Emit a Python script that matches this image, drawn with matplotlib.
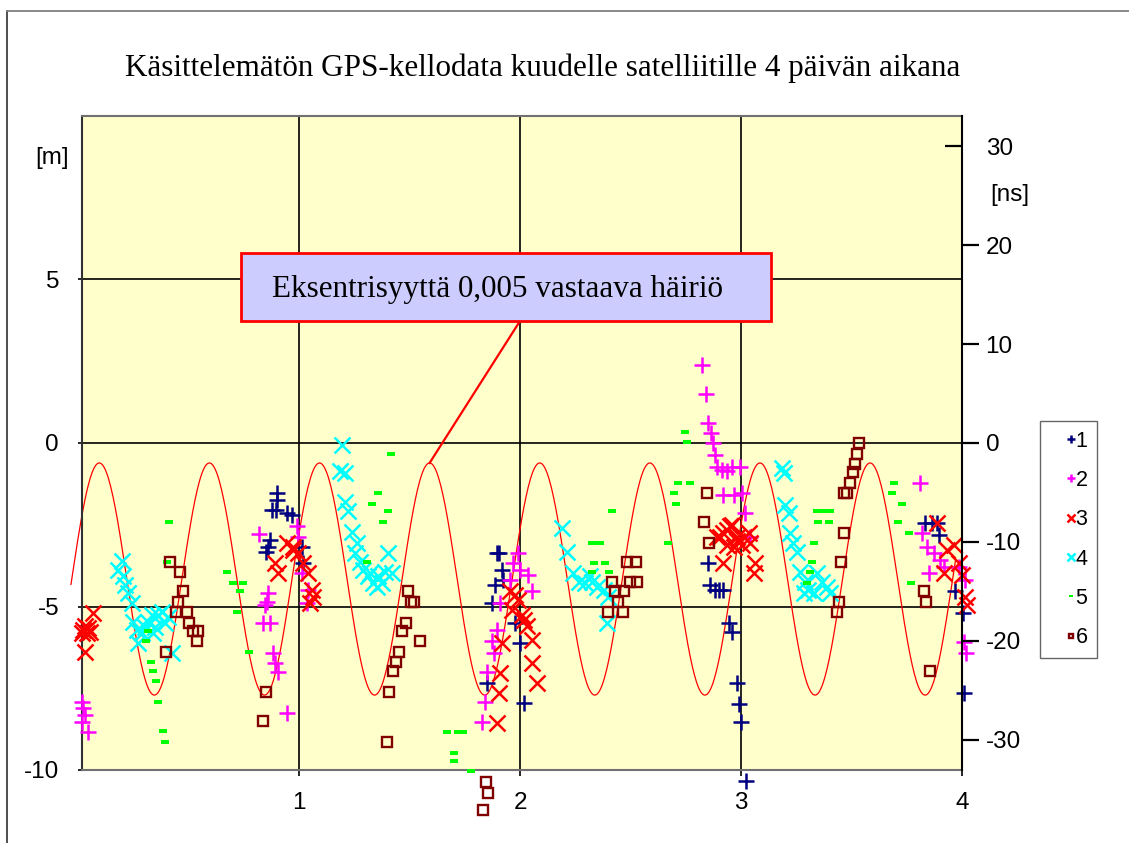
import numpy as np
import matplotlib
matplotlib.use("Agg")
import matplotlib.pyplot as plt
import matplotlib.lines as mlines
import matplotlib.patches as mpatches

# ---------------- data ----------------
TITLE = "Käsittelemätön GPS-kellodata kuudelle satelliitille 4 päivän aikana"
ANNOT = "Eksentrisyyttä 0,005 vastaava häiriö"
SERIES_LABELS = ["1", "2", "3", "4", "5", "6"]
X_TICKS = [1, 2, 3, 4]
Y_TICKS_M = [-10, -5, 0, 5]
Y_TICKS_NS = [-30, -20, -10, 0, 10, 20, 30]
M_PER_NS = 0.3025

# (day, metres)
SAT1 = [(0.900, -1.53), (0.898, -1.74), (0.895, -2.04), (0.875, -2.04), (0.943, -2.14),
        (0.867, -2.96), (0.860, -3.18), (0.849, -3.32), (0.965, -2.20), (1.011, -3.17),
        (1.018, -3.67), (1.894, -3.37), (1.886, -4.34), (1.871, -4.90), (1.849, -7.35),
        (1.906, -3.37), (1.917, -3.88), (1.977, -5.51), (2.000, -6.12), (2.015, -7.96),
        (1.924, -4.19), (2.852, -3.67), (2.860, -4.34), (2.883, -4.49), (2.898, -4.49),
        (2.920, -4.49), (2.943, -5.51), (2.958, -5.77), (2.981, -7.35), (2.989, -7.98),
        (3.000, -8.54), (3.023, -10.34), (3.834, -2.45), (3.864, -2.45), (3.887, -2.45),
        (3.894, -2.81), (3.970, -4.54), (4.005, -5.21), (4.011, -7.65)]
SAT2 = [(0.014, -7.91), (0.022, -8.11), (0.029, -8.32), (0.014, -8.52), (0.044, -8.83),
        (0.819, -2.78), (0.860, -4.59), (0.852, -4.85), (0.845, -4.95), (0.837, -5.51),
        (0.867, -5.51), (0.882, -6.43), (0.890, -6.74), (0.905, -6.99), (0.943, -8.27),
        (0.988, -2.55), (0.996, -2.86), (1.011, -3.98), (1.041, -4.49), (1.033, -4.90),
        (1.992, -3.37), (1.969, -3.67), (2.000, -3.88), (2.037, -4.03), (2.052, -4.54),
        (1.954, -4.19), (1.909, -4.90), (1.894, -5.72), (1.872, -6.07), (1.879, -6.43),
        (1.849, -6.99), (1.841, -7.91), (1.826, -8.52), (2.822, 2.40), (2.842, 1.50),
        (2.852, 0.61), (2.863, 0.31), (2.872, 0.00), (2.882, -0.36), (2.890, -0.72),
        (2.913, -0.82), (2.936, -0.87), (2.958, -0.72), (2.996, -0.72), (2.920, -1.58),
        (2.966, -1.58), (3.004, -1.53), (3.019, -2.14), (3.041, -2.86), (3.811, -1.22),
        (3.819, -2.76), (3.842, -3.17), (3.871, -3.37), (3.902, -3.57), (3.849, -3.98),
        (3.917, -3.78), (3.985, -3.78), (4.015, -4.18), (4.007, -6.10), (4.019, -6.43)]
SAT3 = [(0.022, -5.72), (0.037, -5.82), (0.052, -5.77), (0.067, -5.21), (0.029, -6.38),
        (0.014, -5.82), (0.030, -5.60), (0.045, -5.65), (0.943, -3.06), (0.973, -3.27),
        (0.890, -3.67), (0.905, -3.98), (0.973, -3.17), (0.996, -3.37), (1.018, -3.67),
        (1.041, -3.98), (1.056, -4.49), (1.064, -4.70), (1.048, -4.90), (1.954, -4.54),
        (1.977, -4.64), (1.992, -4.80), (1.962, -5.10), (2.007, -5.26), (2.015, -5.41),
        (2.030, -5.61), (2.052, -6.02), (1.917, -6.12), (2.052, -6.74), (2.075, -7.35),
        (1.909, -7.04), (1.902, -7.65), (1.894, -8.57), (2.920, -2.76), (2.951, -2.55),
        (2.981, -2.86), (2.936, -3.11), (2.966, -3.17), (3.004, -3.11), (3.034, -2.76),
        (3.057, -3.98), (2.920, -3.67), (2.905, -2.86), (2.936, -2.65), (2.958, -2.50),
        (2.981, -3.01), (3.011, -2.86), (3.041, -3.06), (3.064, -3.67), (2.890, -2.86),
        (3.887, -2.45), (3.932, -3.27), (3.962, -3.11), (3.985, -3.67), (3.917, -3.98),
        (4.000, -4.03), (4.015, -4.70), (4.022, -4.95)]
SAT4 = [(0.198, -3.62), (0.180, -3.88), (0.203, -4.08), (0.211, -4.34), (0.226, -4.59),
        (0.241, -4.90), (0.248, -5.46), (0.264, -5.72), (0.271, -6.12), (0.286, -5.82),
        (0.316, -5.46), (0.332, -5.26), (0.346, -5.62), (0.361, -5.26), (0.377, -5.16),
        (0.392, -5.51), (0.407, -5.31), (0.339, -5.82), (0.422, -6.43), (0.301, -5.62),
        (1.192, -0.05), (1.184, -0.87), (1.207, -0.92), (1.207, -1.79), (1.222, -2.09),
        (1.237, -2.71), (1.260, -3.06), (1.252, -3.37), (1.275, -3.63), (1.290, -3.88),
        (1.313, -4.08), (1.335, -4.29), (1.358, -4.08), (1.373, -4.29), (1.388, -3.93),
        (1.403, -3.37), (1.418, -3.98), (1.320, -3.98), (1.350, -4.39),
        (2.188, -2.60), (2.211, -3.32), (2.241, -3.98), (2.264, -4.24), (2.294, -4.29),
        (2.324, -4.24), (2.347, -4.39), (2.377, -4.49), (2.399, -4.70), (2.392, -5.51),
        (2.317, -4.08), (3.185, -0.77), (3.192, -0.92), (3.200, -1.89), (3.215, -2.14),
        (3.222, -2.76), (3.237, -3.06), (3.253, -3.32), (3.268, -3.93), (3.290, -4.24),
        (3.305, -4.49), (3.328, -4.59), (3.343, -3.98), (3.366, -4.24), (3.389, -4.39),
        (3.404, -4.59), (3.283, -4.59)]
SAT5 = [(0.411, -2.43), (0.402, -3.64), (0.316, -5.75), (0.306, -6.07), (0.327, -6.71),
        (0.336, -6.96), (0.350, -7.28), (0.362, -7.93), (0.381, -8.82), (0.392, -9.15),
        (0.671, -3.96), (0.698, -4.29), (0.746, -4.29), (0.731, -4.54), (0.719, -5.17),
        (0.774, -6.40), (1.414, -0.33), (1.358, -1.53), (1.328, -1.86), (1.403, -2.09),
        (1.380, -2.43), (1.308, -3.64), (1.667, -8.83), (1.720, -8.83), (1.743, -8.83),
        (1.698, -9.47), (1.701, -9.72), (1.776, -10.02), (2.324, -3.06), (2.362, -3.06),
        (2.332, -3.66), (2.385, -3.66), (2.324, -3.96), (2.404, -3.96), (2.744, 0.34),
        (2.757, 0.02), (2.714, -1.22), (2.770, -1.22), (2.694, -1.53), (2.705, -1.86),
        (2.415, -2.09), (2.671, -3.06), (3.343, -2.09), (3.373, -2.09), (3.403, -2.09),
        (3.350, -2.43), (3.396, -2.43), (3.331, -3.06), (3.320, -3.64), (3.310, -3.96),
        (3.298, -4.29), (3.693, -1.22), (3.683, -1.53), (3.728, -1.86), (3.709, -2.43),
        (3.758, -2.76), (3.769, -4.29)]
SAT6 = [(0.414, -3.64), (0.460, -3.96), (0.475, -4.54), (0.449, -4.85), (0.442, -5.17),
        (0.490, -5.17), (0.502, -5.49), (0.520, -5.75), (0.543, -5.75), (0.535, -6.05),
        (0.396, -6.38), (0.849, -7.62), (0.834, -8.49), (1.494, -4.52), (1.517, -4.85),
        (1.507, -4.85), (1.483, -5.49), (1.464, -5.75), (1.547, -6.07), (1.449, -6.38),
        (1.438, -6.71), (1.423, -6.96), (1.406, -7.61), (1.396, -9.14), (1.846, -10.36),
        (1.856, -10.69), (1.833, -11.23), (2.483, -3.64), (2.525, -3.64), (2.415, -4.26),
        (2.498, -4.26), (2.528, -4.26), (2.430, -4.52), (2.472, -4.52), (2.442, -4.85),
        (2.397, -5.16), (2.463, -5.16), (2.845, -1.53), (2.833, -2.42), (2.855, -3.06),
        (3.532, 0.00), (3.524, -0.33), (3.514, -0.64), (3.506, -0.89), (3.494, -1.21),
        (3.479, -1.53), (3.467, -1.53), (3.464, -2.76), (3.452, -3.64), (3.441, -4.85),
        (3.434, -5.17), (3.826, -4.52), (3.838, -4.87), (3.856, -6.96)]

# eccentricity disturbance model (metres)
ECC_CENTER = -4.16
ECC_AMPLITUDE = 3.55
ECC_PERIOD = 0.4985      # days
ECC_FIRST_PEAK = 0.0943  # days
ECC_RANGE = (-0.034, 3.97)

# ---------------- figure ----------------
W, H = 1129, 843
fig = plt.figure(figsize=(W / 100, H / 100), dpi=100)
SANS = "Liberation Sans"
SERIF = "Liberation Serif"

def fx(px):
    return px / W

def fy(py):
    return 1 - py / H

ax = fig.add_axes([fx(82), fy(770), fx(962) - fx(82), fy(116) - fy(770)])
ax.set_facecolor("#FFFFCC")
ax.set_xlim(0.016, 4.0)
ax.set_ylim(-10, 10)
ax.set_axisbelow(True)

for v in [1, 2, 3]:
    ax.axvline(v, color="black", lw=1.2, zorder=0.5)
for v in [-5, 0, 5]:
    ax.axhline(v, color="black", lw=1.2, zorder=0.5)

ax.set_xticks(X_TICKS)
ax.set_xticklabels([str(v) for v in X_TICKS], fontsize=17.5, family=SANS)
ax.set_yticks(Y_TICKS_M)
ax.set_yticklabels([str(v) for v in Y_TICKS_M], fontsize=17.5, family=SANS)
ax.tick_params(axis="x", direction="out", length=4, width=1.2, pad=12)
ax.tick_params(axis="y", direction="out", length=3, width=1.2, pad=13.5)

for side in ["top", "bottom", "left"]:
    ax.spines[side].set_color("#707070")
    ax.spines[side].set_linewidth(1.5)
ax.spines["left"].set_color("#303030")
ax.spines["right"].set_visible(False)

# sine curve
xs = np.linspace(ECC_RANGE[0], ECC_RANGE[1], 800)
ys = ECC_CENTER + ECC_AMPLITUDE * np.cos(2 * np.pi * (xs - ECC_FIRST_PEAK) / ECC_PERIOD)
ax.plot(xs, ys, color="red", lw=0.9, zorder=1, clip_on=False)

rect_marker = [(-1, -0.55), (1, -0.55), (1, 0.55), (-1, 0.55)]
styles = [
    dict(marker="+", color="#000080", ms=12, mew=1.8),
    dict(marker="+", color="#FF00FF", ms=12, mew=1.8),
    dict(marker="x", color="#FF0000", ms=12, mew=1.8),
    dict(marker="x", color="#00FFFF", ms=12, mew=1.8),
    dict(marker=rect_marker, color="#00FF00", ms=6, mew=0),
    dict(marker="s", color="#800000", ms=6.5, mew=1.7, mfc="none"),
]
all_series = [SAT1, SAT2, SAT3, SAT4, SAT5, SAT6]
for i, (data, st) in enumerate(zip(all_series, styles)):
    arr = np.array(data)
    ax.plot(arr[:, 0], arr[:, 1], ls="none", clip_on=False, zorder=2 + i, **st)

# right axis in ns
ax2 = ax.twinx()
ax2.set_ylim(-10 / M_PER_NS, 10 / M_PER_NS)
ax2.set_yticks(Y_TICKS_NS)
ax2.set_yticklabels([str(v) for v in Y_TICKS_NS], fontsize=17.5, family=SANS)
ax2.tick_params(axis="y", direction="out", length=12, width=1.6, pad=5)
for side in ["top", "bottom", "left"]:
    ax2.spines[side].set_visible(False)
ax2.spines["right"].set_color("black")
ax2.spines["right"].set_linewidth(1.5)
ticks = ax2.yaxis.get_major_ticks()
ticks[-1].tick2line.set_marker(mlines.TICKLEFT)

# texts
fig.text(fx(543), fy(68), TITLE, ha="center", va="center", family=SERIF, fontsize=22.4)
fig.text(fx(52), fy(158), "[m]", ha="center", va="center", family=SANS, fontsize=17.5)
fig.text(fx(1010), fy(195), "[ns]", ha="center", va="center", family=SANS, fontsize=17.5)

# annotation box and leader line
box = mpatches.Rectangle((fx(241), fy(321)), fx(771) - fx(241), fy(253) - fy(321),
                         transform=fig.transFigure, facecolor="#CCCCFF", edgecolor="red",
                         lw=2, zorder=10)
fig.add_artist(box)
fig.text(fx(272), fy(290), ANNOT, ha="left", va="center", family=SERIF,
         fontsize=22.4, zorder=11)
peak_x = ECC_FIRST_PEAK + 3 * ECC_PERIOD
peak_y = ECC_CENTER + ECC_AMPLITUDE
px_peak = ax.transData.transform((peak_x, peak_y))
leader = mlines.Line2D([fx(520), px_peak[0] / W], [fy(321), px_peak[1] / H],
                       transform=fig.transFigure, color="red", lw=1.6, zorder=9)
fig.add_artist(leader)

# figure frame lines (left and top)
fig.add_artist(mlines.Line2D([fx(6.5), fx(6.5)], [0, fy(11)], transform=fig.transFigure,
                             color="#404040", lw=1.3))
fig.add_artist(mlines.Line2D([fx(6.5), 1], [fy(11), fy(11)], transform=fig.transFigure,
                             color="#808080", lw=1.3))

# legend
handles = []
for st in styles:
    kw = dict(st)
    kw["ms"] = kw["ms"] * 0.5
    handles.append(mlines.Line2D([], [], ls="none", **kw))
leg = fig.legend(handles, SERIES_LABELS, loc="upper left",
                 bbox_to_anchor=(fx(1040), fy(421)), frameon=True, fancybox=False,
                 edgecolor="#404040", prop={"family": SANS, "size": 15.5},
                 handlelength=2.0, handletextpad=-0.8, labelspacing=0.85,
                 borderpad=0.45, borderaxespad=0)
leg.get_frame().set_linewidth(1.0)

fig.savefig("out.png", dpi=100)
